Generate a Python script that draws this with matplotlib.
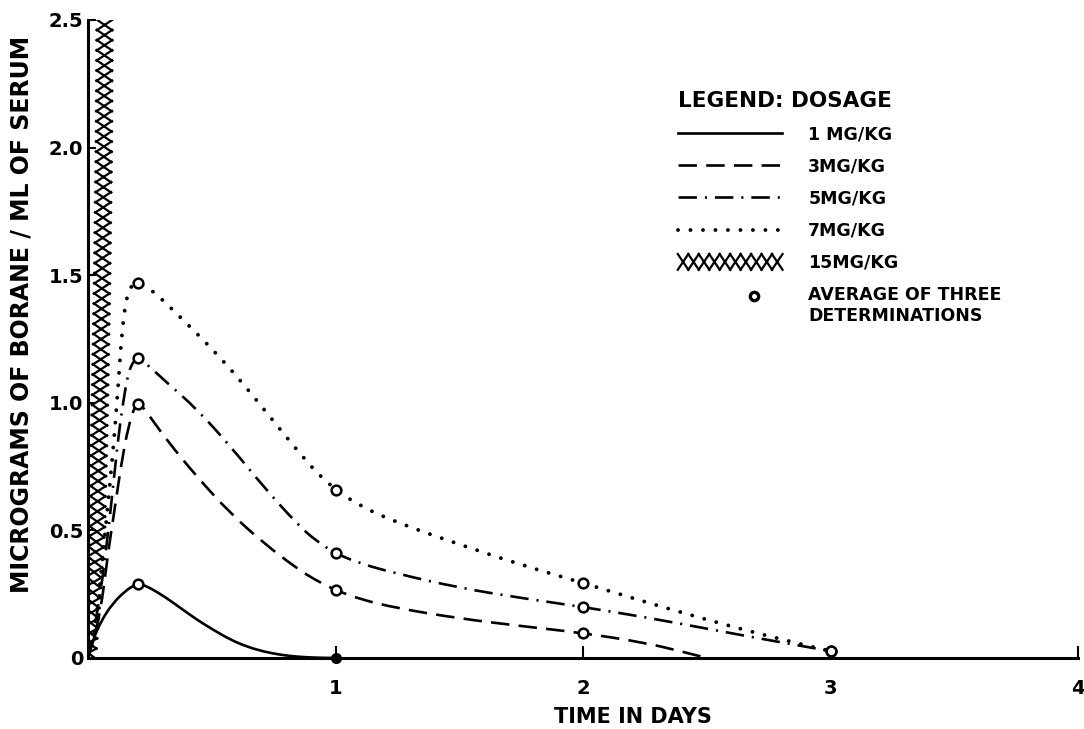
import matplotlib
matplotlib.use("Agg")
import numpy as np
import matplotlib.pyplot as plt
from matplotlib.lines import Line2D
from matplotlib.path import Path
from matplotlib.patches import PathPatch
from matplotlib.legend_handler import HandlerLine2D
import matplotlib.patheffects as pe

# ---------------- data ----------------
dose_labels = ["1 MG/KG", "3MG/KG", "5MG/KG", "7MG/KG", "15MG/KG"]
avg_label = "AVERAGE OF THREE\nDETERMINATIONS"

# measured averages (circles)
m1_x = [0.2];            m1_y = [0.289]
m1_filled_x = [1.0];     m1_filled_y = [0.0]
m3_x = [0.2, 1.0, 2.0];  m3_y = [0.995, 0.266, 0.098]
m5_x = [0.2, 1.0, 2.0, 3.0]; m5_y = [1.175, 0.41, 0.20, 0.027]
m7_x = [0.2, 1.0, 2.0, 3.0]; m7_y = [1.47, 0.66, 0.294, 0.027]

# hand-drawn curve traces
t1_x = [0, 0.02, 0.05, 0.10, 0.155, 0.185, 0.2, 0.22, 0.25, 0.31, 0.375, 0.44, 0.51, 0.575, 0.64,
        0.71, 0.78, 0.845, 0.92, 1.0]
t1_y = [0, 0.07, 0.14, 0.215, 0.266, 0.284, 0.289, 0.287, 0.275, 0.24, 0.195, 0.15, 0.108, 0.072,
        0.045, 0.025, 0.012, 0.005, 0.001, 0.0]

t3_x = [0, 0.048, 0.082, 0.103, 0.143, 0.17, 0.185, 0.2, 0.215, 0.24, 0.318, 0.44, 0.575, 0.71,
        0.845, 0.92, 1.0, 1.1, 1.25, 1.5, 1.75, 2.0, 2.25, 2.4, 2.5]
t3_y = [0, 0.16, 0.42, 0.554, 0.815, 0.93, 0.975, 0.995, 0.99, 0.96, 0.854, 0.71, 0.567, 0.45,
        0.35, 0.305, 0.266, 0.23, 0.195, 0.155, 0.125, 0.098, 0.06, 0.025, 0.0]

t5_x = [0, 0.048, 0.089, 0.12, 0.143, 0.163, 0.185, 0.2, 0.22, 0.25, 0.318, 0.44, 0.575, 0.71,
        0.845, 0.92, 1.0, 1.1, 1.25, 1.5, 1.75, 2.0, 2.25, 2.5, 2.75, 3.0]
t5_y = [0, 0.227, 0.554, 0.85, 1.01, 1.12, 1.165, 1.175, 1.165, 1.14, 1.08, 0.975, 0.83, 0.67,
        0.525, 0.46, 0.41, 0.37, 0.33, 0.275, 0.235, 0.2, 0.16, 0.115, 0.07, 0.027]

t7_x = [0, 0.028, 0.062, 0.102, 0.123, 0.136, 0.156, 0.175, 0.2, 0.25, 0.358, 0.493, 0.614, 0.735,
        0.857, 0.93, 1.0, 1.1, 1.25, 1.5, 1.75, 2.0, 2.25, 2.5, 2.75, 3.0]
t7_y = [0, 0.098, 0.42, 0.815, 1.08, 1.27, 1.42, 1.46, 1.47, 1.45, 1.35, 1.22, 1.09, 0.945,
        0.80, 0.72, 0.66, 0.595, 0.53, 0.445, 0.365, 0.294, 0.22, 0.15, 0.085, 0.027]

t15_x = [0, 0.015, 0.036, 0.048, 0.057, 0.064, 0.067]
t15_y = [0, 0.2, 0.5, 1.0, 1.5, 2.0, 2.5]

x_ticks = [1, 2, 3, 4]
x_ticklabels = ["1", "2", "3", "4"]
y_ticks = [0, 0.5, 1.0, 1.5, 2.0, 2.5]
y_ticklabels = ["0", "0.5", "1.0", "1.5", "2.0", "2.5"]

# ---------------- helpers ----------------
def smooth_path(xs, ys):
    """Quadratic B-spline style path through the traced points (rendering only)."""
    pts = list(zip(xs, ys))
    n = len(pts)
    mids = [((pts[i][0] + pts[i + 1][0]) / 2, (pts[i][1] + pts[i + 1][1]) / 2) for i in range(n - 1)]
    verts = [pts[0], mids[0]]
    codes = [Path.MOVETO, Path.LINETO]
    for i in range(1, n - 1):
        verts += [pts[i], mids[i]]
        codes += [Path.CURVE3, Path.CURVE3]
    verts.append(pts[-1])
    codes.append(Path.LINETO)
    return Path(verts, codes)


class OffsetMarkerHandler(HandlerLine2D):
    def create_artists(self, legend, orig_handle, xdescent, ydescent, width, height, fontsize, trans):
        arts = super().create_artists(legend, orig_handle, xdescent, ydescent, width, height,
                                      fontsize, trans)
        for a in arts:
            yd = np.asarray(a.get_ydata(), dtype=float)
            n = len(yd)
            xs = np.linspace(-xdescent, width - xdescent, n)
            if n == 3:
                xs[1] = width * 0.73 - xdescent
            a.set_xdata(xs)
            a.set_ydata(yd + fontsize * 0.62)
        return arts

# ---------------- figure ----------------
plt.rcParams['font.family'] = ['DejaVu Sans']
plt.rcParams['font.weight'] = 'bold'

fig = plt.figure(figsize=(10.84, 7.29), dpi=100)
ax = fig.add_axes([0.0812, 0.0974, 0.9133, 0.8752])

LW = 1.9
DOT_LW = 2.8
styles = {
    '1': dict(ls='-', lw=LW),
    '3': dict(ls=(0, (7, 3.5)), lw=LW),
    '5': dict(ls=(0, (7, 3, 0.8, 3)), lw=LW),
    '7': dict(ls=(0, (0.01, 3.2)), lw=DOT_LW),
}
traces = {'1': (t1_x, t1_y), '3': (t3_x, t3_y), '5': (t5_x, t5_y), '7': (t7_x, t7_y)}

proxies = []
for key in ['1', '3', '5', '7']:
    st = styles[key]
    xs, ys = traces[key]
    patch = PathPatch(smooth_path(xs, ys), fill=False, edgecolor='black', linewidth=st['lw'],
                      linestyle=st['ls'], capstyle='round' if key == '7' else 'butt',
                      joinstyle='round')
    ax.add_patch(patch)
    proxies.append(Line2D([], [], color='black', lw=st['lw'], ls=st['ls'],
                          dash_capstyle='round' if key == '7' else 'butt'))

xeff = [pe.TickedStroke(spacing=7.2, angle=a, length=0.95, linewidth=1.6)
        for a in (56, -124, 124, -56)]
l15, = ax.plot(t15_x, t15_y, color='black', lw=1.6, path_effects=xeff)

mk = dict(ls='none', marker='o', ms=7, mew=1.8, mec='black', mfc='white', zorder=5)
for mx, my in [(m1_x, m1_y), (m3_x, m3_y), (m5_x, m5_y), (m7_x, m7_y)]:
    ax.plot(mx, my, **mk)
ax.plot(m1_filled_x, m1_filled_y, ls='none', marker='o', ms=7, color='black', zorder=5, clip_on=False)

ax.set_xlim(0, 4)
ax.set_ylim(0, 2.5)
for s in ('top', 'right'):
    ax.spines[s].set_visible(False)
for s in ('left', 'bottom'):
    ax.spines[s].set_linewidth(2.2)

ax.set_xticks(x_ticks)
ax.set_xticklabels(x_ticklabels)
ax.set_yticks(y_ticks)
ax.set_yticklabels(y_ticklabels)
ax.tick_params(axis='x', direction='in', length=9, width=1.5, pad=15, labelsize=14)
ax.tick_params(axis='y', direction='in', length=6, width=1.5, pad=3.5, labelsize=14)

ax.set_xlabel("TIME IN DAYS", fontsize=15, fontweight='bold')
ax.xaxis.set_label_coords(0.5505, -0.077)
ax.set_ylabel("MICROGRAMS OF BORANE / ML OF SERUM", fontsize=17, fontweight='bold')
ax.yaxis.set_label_coords(-0.055, 0.538)

avg_handle = Line2D([], [], ls='none', marker='o', ms=6, mew=2.4, mec='black', mfc='white')
handles = proxies + [l15, avg_handle]
labels = dose_labels + [avg_label]
leg = ax.legend(handles, labels, title="LEGEND: DOSAGE", loc='upper left',
                bbox_to_anchor=(0.596, 0.889), frameon=False, borderpad=0, borderaxespad=0,
                handlelength=6.0, handletextpad=1.5, labelspacing=0.82, fontsize=12.5,
                title_fontproperties={'size': 15.5, 'weight': 'bold'}, alignment='left',
                numpoints=1, handler_map={avg_handle: OffsetMarkerHandler(numpoints=1)})
for t in leg.get_texts():
    t.set_fontweight('bold')

fig.savefig("out.png", dpi=100)
